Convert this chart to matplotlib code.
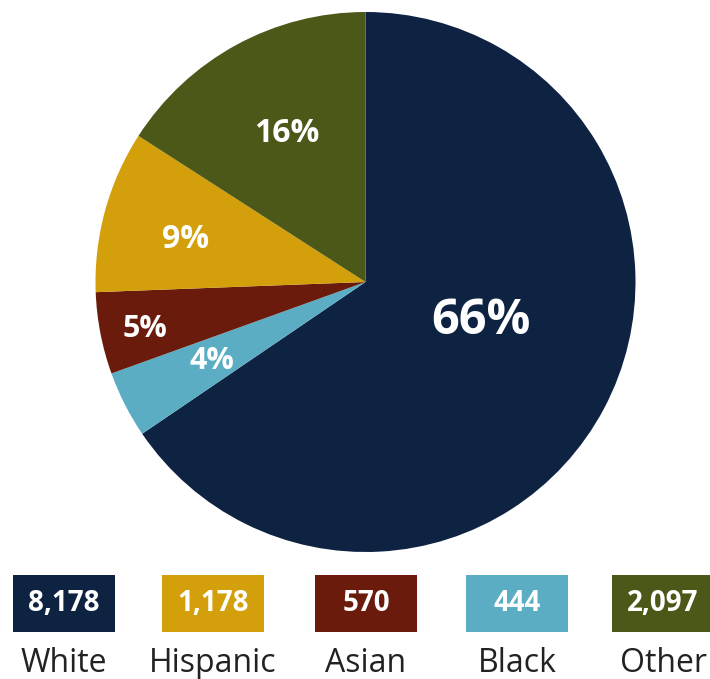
import matplotlib.pyplot as plt
from matplotlib.patches import Rectangle

# data
groups = ['White', 'Black', 'Asian', 'Hispanic', 'Other']
shares = [65.5, 4.0, 4.9, 9.7, 15.9]   # slice sizes as drawn in the reference
pct_labels = ['66%', '4%', '5%', '9%', '16%']
colors = ['#0e2242', '#5badc4', '#6a1b0c', '#d3a00b', '#4b5817']

# legend order along the bottom
legend_groups = ['White', 'Hispanic', 'Asian', 'Black', 'Other']
legend_counts = ['8,178', '1,178', '570', '444', '2,097']

W, H = 710, 679
plt.rcParams['font.family'] = ['Open Sans', 'DejaVu Sans']

fig = plt.figure(figsize=(W / 100, H / 100), dpi=100)
ax = fig.add_axes([0, 0, 1, 1])

cx, cy, r = 365.5, H - 282, 270
wedges, _ = ax.pie(shares, colors=colors, startangle=90, counterclock=False,
                   center=(cx, cy), radius=r, frame=True,
                   wedgeprops=dict(linewidth=0))
ax.set_xlim(0, W)
ax.set_ylim(0, H)
ax.set_aspect('equal')
ax.axis('off')

# percentage labels (positions)
label_pos = {'66%': (481, 321, 35), '4%': (212, 361, 22), '5%': (145, 329, 22),
             '9%': (186, 240, 23), '16%': (287, 134, 23)}
for lab in pct_labels:
    x, y, s = label_pos[lab]
    ax.text(x, H - y, lab, color='white', fontsize=s, fontweight='bold',
            ha='center', va='center')

# legend boxes
box_left = [13, 162, 315, 466, 612]
box_w, box_top, box_bot = 102, 575, 632
for i, g in enumerate(legend_groups):
    c = colors[groups.index(g)]
    ax.add_patch(Rectangle((box_left[i], H - box_bot), box_w, box_bot - box_top,
                           facecolor=c, edgecolor='none'))
    xc = box_left[i] + box_w / 2
    ax.text(xc, H - (box_top + box_bot) / 2, legend_counts[i], color='white',
            fontsize=20, fontweight='bold', ha='center', va='center')
    ax.text(xc, H - 664, g, color='#222222', fontsize=23, ha='center', va='center')

fig.savefig('out.png', dpi=100)
